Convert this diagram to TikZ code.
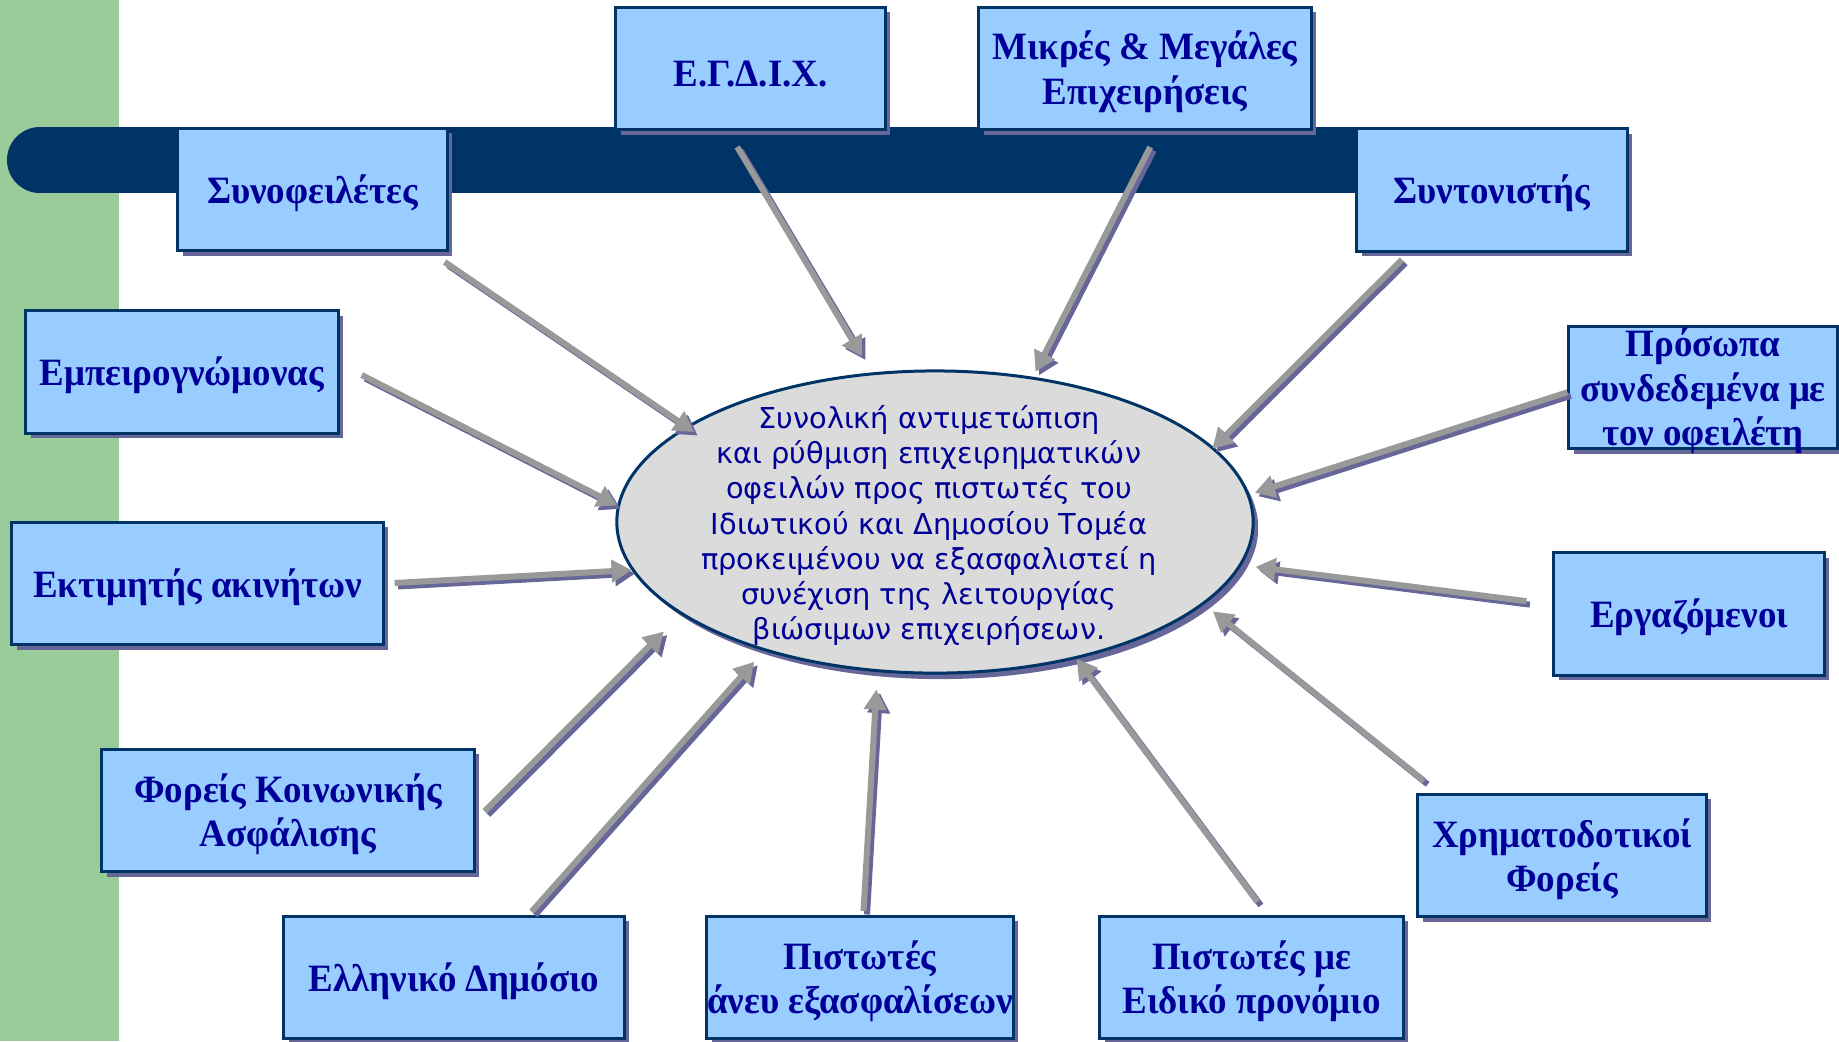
\documentclass[tikz,border=0pt]{standalone}
\usepackage{fontspec}
\setmainfont[FakeStretch=0.955]{Liberation Serif}
\newfontfamily\hubfont{DejaVu Sans}
\usepackage{tikz}
\usetikzlibrary{arrows.meta,shadows,shapes.geometric}
\definecolor{band}{HTML}{99CC99}
\definecolor{navy}{HTML}{003366}
\definecolor{boxfill}{HTML}{99CCFF}
\definecolor{shade}{HTML}{666699}
\definecolor{txtblue}{HTML}{000099}
\definecolor{hubfill}{HTML}{DBDBDB}
\definecolor{arrgray}{HTML}{999999}
\tikzset{
  toprule/.style={execute at begin node={\rule{0pt}{#1}}},
  party/.style={rectangle, draw=navy, line width=0.03cm, fill=boxfill, text=txtblue,
    font=\fontsize{11}{12.7}\selectfont\bfseries, align=center, inner sep=0pt,
    minimum height=1.22cm, toprule=10.2pt,
    drop shadow={shadow xshift=0.05cm, shadow yshift=-0.05cm, fill=shade, opacity=1}},
  hub/.style={ellipse, draw=navy, line width=0.03cm, fill=hubfill, text=txtblue,
    font=\hubfont\fontsize{8.2}{10}\selectfont, align=center,
    inner xsep=-0.15cm, inner ysep=-0.25cm, minimum width=6.36cm, minimum height=3.02cm,
    toprule=68.6pt, execute at end node={\hspace{0.12cm}},
    drop shadow={shadow xshift=0.05cm, shadow yshift=-0.06cm, fill=shade, opacity=1}},
  flow/.style={draw=arrgray, line width=0.06cm, -{Triangle[length=0.2cm,width=0.22cm]}},
  flowshade/.style={flow, draw=shade, transform canvas={shift={(0.035cm,-0.035cm)}}}
}
\begin{document}
\begin{tikzpicture}[x=0.01cm,y=-0.01cm]
  \useasboundingbox (0,0) rectangle (1839,1041);
  \fill[band] (0,0) rectangle (119,1041);
  \fill[navy] (40,127) rectangle (1380,193);
  \fill[navy] (40,160) circle[radius=0.33cm];

  \node[hub] (main) at (935,522) {Συνολική αντιμετώπιση\\και ρύθμιση επιχειρηματικών\\οφειλών προς πιστωτές του\\Ιδιωτικού και Δημοσίου Τομέα\\προκειμένου να εξασφαλιστεί η\\συνέχιση της λειτουργίας\\βιώσιμων επιχειρήσεων.};

  \node[party, minimum width=2.69cm] (syn) at (312.5,189.5) {Συνοφειλέτες};
  \node[party, minimum width=2.69cm] (egdix) at (750.5,68.5) {Ε.Γ.Δ.Ι.Χ.};
  \node[party, minimum width=3.32cm, toprule=22.9pt] (mikres) at (1145,68.5) {Μικρές \& Μεγάλες\\Επιχειρήσεις};
  \node[party, minimum width=2.70cm] (synt) at (1492,190) {Συντονιστής};
  \node[party, minimum width=3.12cm] (emp) at (182,372) {Εμπειρογνώμονας};
  \node[party, minimum width=2.68cm, inner ysep=-0.14cm, toprule=35.6pt] (pros) at (1703,387.5) {Πρόσωπα\\συνδεδεμένα με\\τον οφειλέτη};
  \node[party, minimum width=3.71cm] (ekt) at (197.5,583.5) {Εκτιμητής ακινήτων};
  \node[party, minimum width=2.70cm] (erg) at (1689,614) {Εργαζόμενοι};
  \node[party, minimum width=3.72cm, toprule=22.9pt] (fka) at (288,810.5) {Φορείς Κοινωνικής\\Ασφάλισης};
  \node[party, minimum width=2.88cm, toprule=22.9pt] (chr) at (1562,855.5) {Χρηματοδοτικοί\\Φορείς};
  \node[party, minimum width=3.40cm] (ed) at (454,977.5) {Ελληνικό Δημόσιο};
  \node[party, minimum width=3.06cm, inner xsep=-0.1cm, toprule=22.9pt] (pa) at (860,977.5) {Πιστωτές\\άνευ εξασφαλίσεων};
  \node[party, minimum width=3.03cm, toprule=22.9pt] (pme) at (1251.5,977.5) {Πιστωτές με\\Ειδικό προνόμιο};

  \foreach \a/\b/\s/\e in {syn.-28/main.159.4/0.176cm/-0.1cm,
      egdix.-110/main.113.3/0.185cm/0.185cm, mikres.-78.8/main.56.2/0.179cm/0.056cm,
      synt.-143/main.15.3/0.1cm/-0.02cm, pros.182/main.5/0cm/0.056cm,
      emp.3.8/main.177.3/0.248cm/0cm, ekt.east/main.-171.2/0.1cm/0cm,
      erg.176.3/main.-8.3/0.262cm/0.14cm, fka.-3.2/main.-160.3/0.128cm/0.24cm,
      ed.40.3/main.-143.4/0.045cm/0.145cm, pa.87.4/main.-111.3/0.04cm/0.175cm,
      pme.76.9/main.-44.8/0.163cm/0cm, chr.153.6/main.-17.7/0.194cm/0.112cm}
  {
    \draw[flowshade, shorten <=\s, shorten >=\e] (\a) -- (\b);
    \draw[flow, shorten <=\s, shorten >=\e] (\a) -- (\b);
  }
\end{tikzpicture}
\end{document}
